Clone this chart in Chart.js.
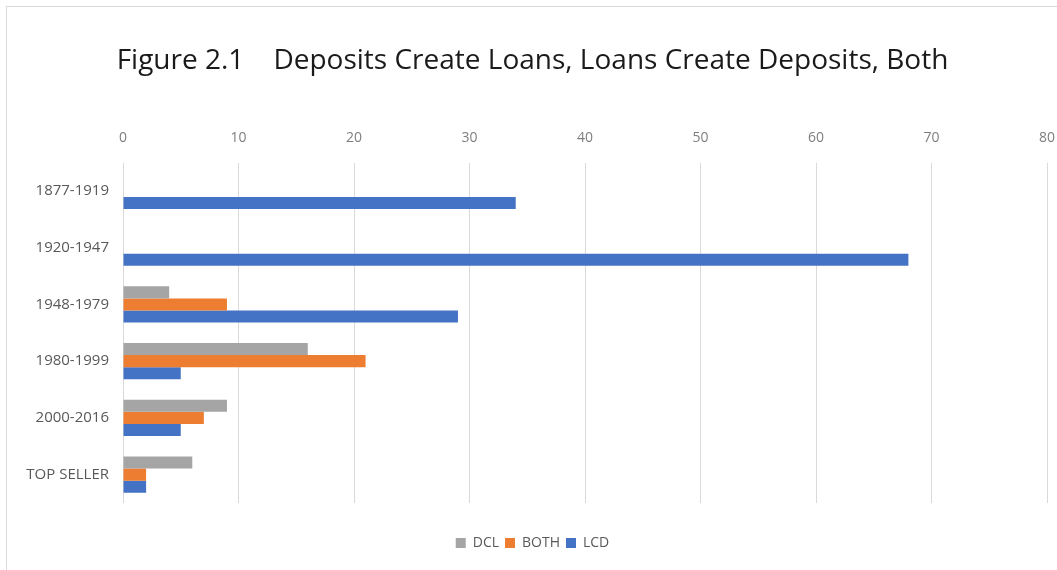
<!DOCTYPE html>
<html>
<head>
<meta charset="utf-8">
<script src="https://cdn.jsdelivr.net/npm/chart.js@4"></script>
<style>
  html, body { margin: 0; padding: 0; background: #fff; overflow: hidden; }
  #wrap { position: relative; width: 1057px; height: 570px; }
  #frame { position: absolute; left: 6px; top: 6px; width: 1060px; height: 580px; border: 1px solid #d9d9d9; box-sizing: border-box; }
  canvas { position: absolute; left: 0; top: 0; }
</style>
</head>
<body>
<div id="wrap">
  <div id="frame"></div>
  <canvas id="chart" width="1057" height="570"></canvas>
</div>
<script>
const periods = ['1877-1919', '1920-1947', '1948-1979', '1980-1999', '2000-2016', 'TOP SELLER'];
const dclValues = [0, 0, 4, 16, 9, 6];
const bothValues = [0, 0, 9, 21, 7, 2];
const lcdValues = [34, 68, 29, 5, 5, 2];
const xTicks = [0, 10, 20, 30, 40, 50, 60, 70, 80];

const labelFont = "'Open Sans', sans-serif";

const ctx = document.getElementById('chart').getContext('2d');
new Chart(ctx, {
  type: 'bar',
  data: {
    labels: periods,
    datasets: [
      { label: 'DCL', data: dclValues, backgroundColor: '#a5a5a5' },
      { label: 'BOTH', data: bothValues, backgroundColor: '#ed7d31' },
      { label: 'LCD', data: lcdValues, backgroundColor: '#4472c4' }
    ]
  },
  options: {
    indexAxis: 'y',
    responsive: false,
    animation: false,
    layout: { padding: { left: 18, right: 10, top: 44, bottom: 10 } },
    datasets: {
      bar: { categoryPercentage: 0.64, barPercentage: 1.0 }
    },
    scales: {
      x: {
        position: 'top',
        min: 0,
        max: 80,
        afterBuildTicks: scale => { scale.ticks = xTicks.map(v => ({ value: v })); },
        afterFit: scale => {
          // fixed band height, and let "80" hang off the right like the original
          scale.height = 75;
          scale.paddingLeft = 0;
          scale.paddingRight = 0;
        },
        border: { display: false },
        grid: { color: '#d9d9d9', drawTicks: false },
        ticks: {
          color: '#7f7f7f',
          padding: 16,
          font: { family: labelFont, size: 14 }
        }
      },
      y: {
        afterFit: scale => { scale.width = 105; },
        border: { display: false },
        grid: { display: false },
        ticks: {
          color: '#595959',
          padding: 6,
          font: { family: labelFont, size: 15 }
        }
      }
    },
    plugins: {
      title: {
        display: true,
        text: 'Figure 2.1    Deposits Create Loans, Loans Create Deposits, Both',
        color: '#1a1a1a',
        font: { family: "'Open Sans', sans-serif", size: 28, weight: 'normal' },
        padding: { top: 0, bottom: 10 }
      },
      legend: {
        position: 'bottom',
        // empty title only used as a spacer between plot and legend items
        title: { display: true, text: '', font: { size: 10 }, padding: { top: 15, bottom: 0 } },
        labels: {
          color: '#595959',
          boxWidth: 10,
          boxHeight: 10,
          padding: 6,
          font: { family: labelFont, size: 14 }
        }
      },
      tooltip: { enabled: false }
    }
  }
});
</script>
</body>
</html>
